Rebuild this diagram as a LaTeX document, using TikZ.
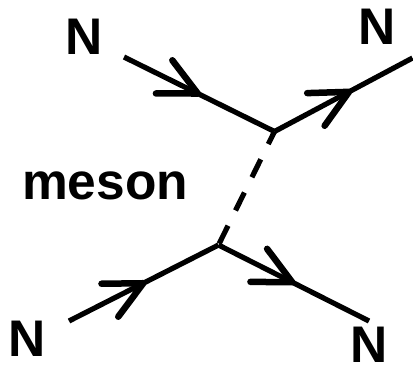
\documentclass[tikz,border=0pt]{standalone}
\usepackage{fontspec}
\setmainfont{Liberation Sans}
\usetikzlibrary{decorations.markings}
\begin{document}
\begin{tikzpicture}[x=1pt,y=-1pt,
  lbl/.style={inner sep=0pt, font=\fontsize{51.5}{60}\selectfont\bfseries},
  fermion/.style={line width=5.2pt, line cap=butt},
  chev/.style={decoration={markings, mark=at position #1 with {\draw[line width=6.5pt, line cap=round, line join=round] (-37.5,18.5) -- (0,0) -- (-37.5,-18.5);}}, postaction={decorate}},
  mesonline/.style={line width=5.2pt, dash pattern=on 20pt off 17pt, dash phase=6pt}]
\path[use as bounding box] (0,0) rectangle (413,368);
\coordinate (a) at (124,57);
\coordinate (b) at (412.5,58);
\coordinate (c) at (69,321);
\coordinate (d) at (369,321);
\coordinate (v1) at (274.5,131.5);
\coordinate (v2) at (218.5,245);
\node[lbl] (n1) at (84.5,36.5) {N};
\node[lbl] (n2) at (377.5,26.5) {N};
\node[lbl] (n3) at (27.5,338.5) {N};
\node[lbl] (n4) at (369,345) {N};
\node[lbl] (m) at (105,185.5) {meson};
\draw[fermion, chev=0.49] (a) -- (v1);
\draw[fermion, chev=0.54] (v1) -- (b);
\draw[fermion, chev=0.497] (c) -- (v2);
\draw[fermion, chev=0.49] (v2) -- (d);
\draw[mesonline] (v1) -- (v2);
\end{tikzpicture}
\end{document}
